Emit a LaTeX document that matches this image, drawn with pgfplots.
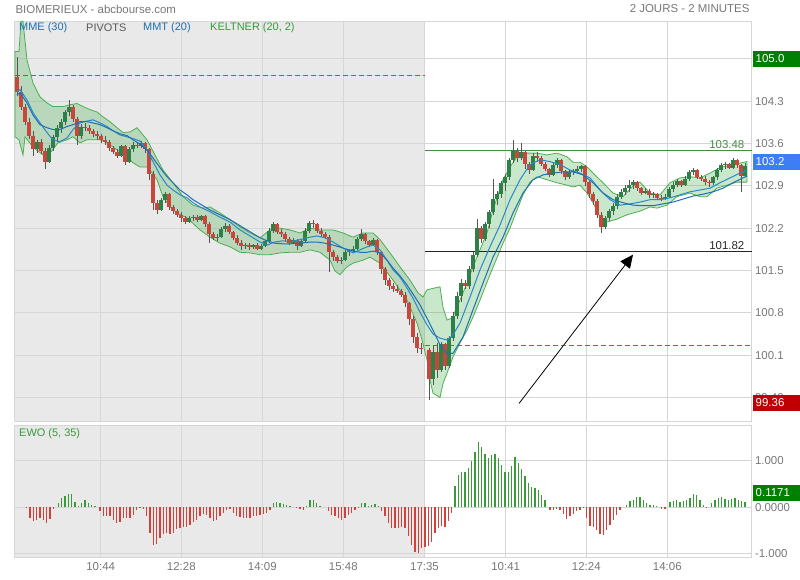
\documentclass[border=0pt]{standalone}
\usepackage{fontspec}
\setmainfont{Liberation Sans}
\usepackage{pgfplots}
\pgfplotsset{compat=1.18}
\usepackage{pgfplotstable}
\usetikzlibrary{arrows.meta}

\definecolor{prevday}{HTML}{E9E9E9}
\definecolor{gridc}{HTML}{D6D6D6}
\definecolor{labc}{HTML}{777777}
\definecolor{upc}{HTML}{2E8049}
\definecolor{dnc}{HTML}{C9473A}
\definecolor{wickc}{HTML}{555555}
\definecolor{keltc}{HTML}{4CAF50}
\definecolor{mablue}{HTML}{1F6FB2}
\definecolor{mablue2}{HTML}{2A88C8}
\definecolor{boxgreen}{HTML}{008000}
\definecolor{boxblue}{HTML}{3D7EF5}
\definecolor{boxred}{HTML}{C00000}
\definecolor{ewogreen}{HTML}{3A9A3A}
\definecolor{ewored}{HTML}{D43F3A}
\definecolor{pivgreen}{HTML}{3F8F3F}
\definecolor{pivred}{HTML}{E53935}

% 2-minute candles (x = position on the time axis)
\pgfplotstableread{
x o h l c
17 104.70 105.03 104.38 104.45
21 104.45 104.55 104.15 104.20
25 104.20 104.25 103.90 103.95
29 103.95 104.02 103.68 103.72
33 103.72 103.80 103.40 103.50
37 103.50 103.66 103.45 103.62
41 103.62 103.68 103.42 103.48
45 103.48 103.52 103.18 103.30
49 103.30 103.58 103.28 103.52
53 103.52 103.74 103.48 103.70
57 103.70 103.90 103.62 103.85
61 103.85 104.00 103.78 103.96
65 103.96 104.16 103.90 104.12
69 104.12 104.32 104.05 104.20
73 104.20 104.24 103.96 104.00
77 104.00 104.04 103.58 103.72
81 103.72 103.92 103.68 103.88
85 103.88 103.94 103.80 103.85
89 103.85 103.90 103.76 103.80
93 103.80 103.84 103.70 103.76
97 103.76 103.80 103.66 103.72
101 103.72 103.76 103.60 103.66
105 103.66 103.72 103.58 103.62
109 103.62 103.66 103.48 103.52
113 103.52 103.56 103.42 103.46
117 103.46 103.50 103.36 103.40
121 103.40 103.58 103.38 103.55
125 103.55 103.58 103.24 103.30
129 103.30 103.54 103.28 103.50
133 103.50 103.62 103.46 103.58
137 103.58 103.62 103.52 103.56
141 103.56 103.64 103.52 103.60
145 103.60 103.62 103.44 103.50
149 103.50 103.52 103.00 103.10
153 103.10 103.14 102.50 102.62
157 102.62 102.66 102.44 102.50
161 102.50 102.70 102.48 102.66
165 102.66 102.80 102.62 102.76
169 102.76 102.78 102.50 102.55
173 102.55 102.58 102.44 102.48
177 102.48 102.52 102.38 102.42
181 102.42 102.46 102.30 102.36
185 102.36 102.40 102.26 102.30
189 102.30 102.40 102.28 102.36
193 102.36 102.42 102.32 102.38
197 102.38 102.42 102.30 102.34
201 102.34 102.42 102.32 102.40
205 102.40 102.42 102.22 102.26
209 102.26 102.30 101.96 102.10
213 102.10 102.14 102.00 102.04
217 102.04 102.10 101.98 102.06
221 102.06 102.22 102.04 102.18
225 102.18 102.28 102.14 102.24
229 102.24 102.26 102.10 102.14
233 102.14 102.16 102.00 102.04
237 102.04 102.08 101.92 101.96
241 101.96 102.00 101.84 101.90
245 101.90 101.96 101.86 101.92
249 101.92 101.96 101.84 101.88
253 101.88 101.94 101.86 101.92
257 101.92 101.96 101.84 101.86
261 101.86 101.94 101.84 101.90
265 101.90 102.00 101.88 101.98
269 101.98 102.20 101.96 102.16
273 102.16 102.30 102.12 102.26
277 102.26 102.28 102.10 102.14
281 102.14 102.18 102.06 102.10
285 102.10 102.14 101.98 102.02
289 102.02 102.06 101.92 101.96
293 101.96 102.04 101.94 102.00
297 102.00 102.02 101.84 101.90
301 101.90 102.02 101.88 101.98
305 101.98 102.20 101.96 102.16
309 102.16 102.32 102.12 102.28
313 102.28 102.34 102.20 102.26
317 102.26 102.28 102.12 102.16
321 102.16 102.20 102.06 102.10
325 102.10 102.14 102.02 102.06
329 102.06 102.08 101.48 101.80
333 101.80 101.84 101.66 101.72
337 101.72 101.76 101.62 101.66
341 101.66 101.72 101.60 101.68
345 101.68 101.84 101.66 101.80
349 101.80 101.86 101.74 101.82
353 101.82 101.90 101.78 101.86
357 101.86 102.06 101.84 102.02
361 102.02 102.18 101.98 102.10
365 102.10 102.12 101.94 101.98
369 101.98 102.00 101.88 101.92
373 101.92 102.04 101.90 102.00
377 102.00 102.02 101.76 101.80
381 101.80 101.82 101.44 101.52
385 101.52 101.56 101.26 101.34
389 101.34 101.38 101.18 101.24
393 101.24 101.30 101.14 101.20
397 101.20 101.26 101.12 101.16
401 101.16 101.20 101.06 101.10
405 101.10 101.14 100.90 100.96
409 100.96 100.98 100.60 100.70
413 100.70 100.74 100.30 100.40
417 100.40 100.46 100.14 100.22
421 100.22 100.30 100.12 100.20
429 100.18 100.22 99.35 99.70
433 99.70 100.25 99.60 100.15
437 100.15 100.30 99.72 99.85
441 99.85 100.32 99.82 100.28
445 100.28 100.30 99.86 99.92
449 99.92 100.42 99.88 100.38
453 100.38 100.82 100.34 100.75
457 100.75 101.15 100.70 101.08
461 101.08 101.36 100.98 101.30
465 101.30 101.34 101.20 101.24
469 101.24 101.58 101.20 101.52
473 101.52 101.80 101.48 101.76
477 101.76 102.35 101.72 102.20
481 102.20 102.24 101.96 102.02
485 102.02 102.30 101.98 102.26
489 102.26 102.50 102.20 102.46
493 102.46 103.02 102.42 102.68
497 102.68 102.82 102.58 102.76
501 102.76 102.98 102.70 102.94
505 102.94 103.10 102.82 103.04
509 103.04 103.36 103.00 103.32
513 103.32 103.66 103.28 103.48
517 103.48 103.52 103.30 103.36
521 103.36 103.61 103.32 103.46
525 103.46 103.48 103.18 103.26
529 103.26 103.30 103.10 103.16
533 103.16 103.44 103.14 103.40
537 103.40 103.46 103.30 103.36
541 103.36 103.40 103.22 103.26
545 103.26 103.30 103.14 103.18
549 103.18 103.20 103.04 103.08
553 103.08 103.28 103.06 103.24
557 103.24 103.36 103.20 103.32
561 103.32 103.34 103.10 103.14
565 103.14 103.16 103.00 103.04
569 103.04 103.16 103.02 103.12
573 103.12 103.18 103.08 103.14
577 103.14 103.22 103.12 103.18
581 103.18 103.24 103.12 103.22
585 103.22 103.24 102.90 102.96
589 102.96 102.98 102.70 102.76
593 102.76 102.80 102.58 102.64
597 102.64 102.68 102.36 102.42
601 102.42 102.46 102.12 102.22
605 102.22 102.40 102.18 102.36
609 102.36 102.52 102.32 102.48
613 102.48 102.62 102.42 102.56
617 102.56 102.76 102.52 102.72
621 102.72 102.84 102.68 102.80
625 102.80 102.92 102.74 102.86
629 102.86 103.00 102.80 102.92
633 102.92 103.00 102.84 102.96
637 102.96 102.98 102.82 102.86
641 102.86 102.88 102.74 102.78
645 102.78 102.86 102.76 102.82
649 102.82 102.84 102.70 102.74
653 102.74 102.80 102.70 102.76
657 102.76 102.78 102.66 102.70
661 102.70 102.74 102.64 102.68
665 102.68 102.76 102.66 102.72
669 102.72 102.88 102.70 102.84
673 102.84 102.96 102.80 102.92
677 102.92 103.02 102.88 102.98
681 102.98 103.00 102.88 102.92
685 102.92 103.06 102.90 103.02
689 103.02 103.16 102.98 103.12
693 103.12 103.20 103.08 103.16
697 103.16 103.18 103.02 103.04
701 103.04 103.08 102.98 103.02
705 103.02 103.06 102.92 102.96
709 102.96 103.00 102.88 102.94
713 102.94 103.06 102.92 103.04
717 103.04 103.20 103.00 103.16
721 103.16 103.28 103.12 103.24
725 103.24 103.30 103.18 103.26
729 103.26 103.28 103.18 103.20
733 103.20 103.36 103.18 103.32
737 103.32 103.34 103.20 103.24
741 103.24 103.26 102.80 103.06
745 103.06 103.28 103.04 103.22
}\candles

% EWO (5, 35) histogram
\pgfplotstableread{
x v
26.7 -0.02
30.0 -0.24
33.3 -0.30
36.7 -0.27
40.0 -0.24
43.3 -0.27
46.7 -0.34
50.0 -0.25
53.3 -0.04
58.3 0.10
61.7 0.19
65.0 0.24
68.3 0.29
71.7 0.28
75.0 0.12
78.3 0.03
81.7 0.09
85.0 0.16
88.3 0.08
91.7 0.04
95.0 0.03
100.0 -0.09
103.3 -0.20
106.7 -0.20
110.0 -0.20
113.3 -0.27
116.7 -0.35
120.0 -0.31
123.3 -0.24
126.7 -0.24
130.0 -0.24
133.3 -0.17
136.7 -0.06
140.0 -0.02
143.3 -0.04
146.7 -0.20
150.0 -0.56
153.3 -0.81
156.7 -0.79
160.0 -0.66
163.3 -0.58
166.7 -0.56
170.0 -0.58
173.3 -0.55
176.7 -0.47
180.0 -0.44
183.3 -0.42
186.7 -0.42
190.0 -0.38
193.3 -0.33
196.7 -0.28
200.0 -0.20
203.3 -0.15
206.7 -0.17
210.0 -0.24
213.3 -0.29
216.7 -0.27
220.0 -0.20
223.3 -0.13
226.7 -0.06
230.0 -0.05
233.3 -0.13
236.7 -0.19
240.0 -0.22
243.3 -0.24
246.7 -0.24
250.0 -0.24
253.3 -0.20
256.7 -0.19
260.0 -0.17
263.3 -0.15
266.7 -0.12
270.0 -0.07
273.3 0.09
276.7 0.12
280.0 0.09
283.3 0.07
286.7 0.05
290.0 0.03
296.7 -0.02
300.0 -0.03
303.3 -0.06
306.7 0.03
310.0 0.15
313.3 0.16
316.7 0.09
320.0 0.03
328.3 -0.09
331.7 -0.17
335.0 -0.20
338.3 -0.24
341.7 -0.27
345.0 -0.24
348.3 -0.17
351.7 -0.12
355.0 -0.06
358.3 -0.02
361.7 0.09
365.0 0.09
368.3 0.03
371.7 0.05
375.0 0.07
378.3 0.03
381.7 -0.09
385.0 -0.20
388.3 -0.35
391.7 -0.45
395.0 -0.45
398.3 -0.45
401.7 -0.42
405.0 -0.45
408.3 -0.63
411.7 -0.81
415.0 -0.96
418.3 -0.99
421.7 -0.88
425.0 -0.85
428.3 -0.83
431.7 -0.75
435.0 -0.55
438.3 -0.45
441.7 -0.40
445.0 -0.42
448.3 -0.30
451.7 -0.12
455.0 0.45
458.3 0.70
461.7 0.77
465.0 0.77
468.3 0.84
471.7 0.99
475.0 1.20
478.3 1.40
481.7 1.31
485.0 1.15
488.3 1.06
491.7 1.13
495.0 1.14
498.3 1.06
501.7 0.92
505.0 0.77
508.3 0.76
511.7 0.90
515.0 1.09
518.3 0.96
521.7 0.82
525.0 0.67
528.3 0.52
531.7 0.43
535.0 0.41
538.3 0.38
541.7 0.27
545.0 0.15
550.0 -0.07
553.3 -0.06
556.7 -0.05
560.0 -0.06
563.3 -0.14
566.7 -0.26
570.0 -0.20
573.3 -0.14
576.7 -0.09
580.0 -0.06
583.3 -0.02
586.7 -0.24
590.0 -0.40
593.3 -0.42
596.7 -0.49
600.0 -0.58
603.3 -0.60
606.7 -0.49
610.0 -0.38
613.3 -0.27
616.7 -0.16
620.0 -0.07
626.7 0.05
630.0 0.14
633.3 0.16
636.7 0.22
640.0 0.23
643.3 0.16
646.7 0.09
650.0 0.05
653.3 0.05
656.7 0.03
661.7 -0.04
665.0 -0.04
670.0 0.12
673.3 0.14
676.7 0.16
680.0 0.12
683.3 0.14
686.7 0.16
690.0 0.19
693.3 0.29
696.7 0.27
700.0 0.16
703.3 0.05
706.7 -0.02
711.7 0.09
715.0 0.16
718.3 0.19
721.7 0.22
725.0 0.17
728.3 0.16
731.7 0.17
735.0 0.19
738.3 0.16
741.7 0.14
745.0 0.12
}\ewo

\pgfplotsset{
  chartbase/.style={
    scale only axis, width=737bp, anchor=south west,
    xmin=14.5, xmax=751.5,
    axis line style={draw=gridc},
    grid=major, major grid style={draw=gridc, line width=0.8bp},
    major tick length=0pt,
    xtick={100.7,181.3,262.3,343.3,424.5,505.7,586.3,667.3},
    yticklabel pos=right,
    tick label style={font=\fontsize{11.5}{12}\selectfont, text=labc},
    /pgf/number format/assume math mode=true,
    clip=false,
  },
}
\tikzset{
  boxlab/.style={anchor=west, text=white, inner xsep=3bp, inner ysep=0pt,
    minimum height=16bp, text width=44bp, align=left,
    font=\fontsize{11.5}{12}\selectfont},
}

\begin{document}
\begin{tikzpicture}
\path[use as bounding box] (0,0) rectangle (800bp,580bp);
% previous-day shading behind both panels
\fill[prevday] (14.5bp,159bp) rectangle (424.5bp,558.7bp);
\fill[prevday] (14.5bp,23.3bp) rectangle (424.5bp,154.3bp);

\node[anchor=west, text=labc, font=\fontsize{11.5}{12}\selectfont] at (12bp,571bp) {BIOMERIEUX - abcbourse.com};
\node[anchor=east, text=labc, font=\fontsize{11.5}{12}\selectfont] at (753bp,571bp) {2 JOURS - 2 MINUTES};

% price panel
\begin{axis}[chartbase, at={(14.5bp,159bp)}, height=399.7bp,
  ymin=99.01, ymax=105.62,
  ytick={99.4,100.1,100.8,101.5,102.2,102.9,103.6,104.3,105.0},
  yticklabels={99.40,100.1,100.8,101.5,102.2,102.9,103.6,104.3,105.0},
  xticklabels={}]

% Keltner (20, 2): upper band left to right, then lower band right to left
\addplot[fill=keltc, fill opacity=0.3, draw=keltc, line width=0.8bp] coordinates {
(15,105.12) (19,105.12) (21,105.62) (23,105.62) (27,104.98) (33,104.60) (40,104.37) (47,104.27)
(53,104.21) (63,104.21) (70,104.24) (77,104.26) (83,104.21) (90,104.16) (97,104.12)
(103,104.04) (110,103.96) (117,103.86) (123,103.78) (130,103.79) (137,103.86) (143,103.74)
(147,103.66) (155,103.41) (163,103.16) (173,102.95) (183,102.72) (193,102.58) (203,102.53)
(210,102.55) (220,102.45) (230,102.34) (240,102.22) (250,102.12) (260,102.04) (270,102.17)
(280,102.20) (290,102.17) (300,102.12) (310,102.20) (320,102.17) (333,102.17) (343,102.12)
(353,102.05) (363,102.12) (373,102.12) (380,102.01) (390,101.79) (400,101.56) (410,101.34)
(418,101.13) (423,101.06) (427,101.18) (440,101.23) (443,100.89) (447,100.68) (452,100.71)
(460,101.01) (467,101.29) (473,101.56) (480,101.84) (487,102.12) (493,102.50) (503,103.00)
(510,103.21) (517,103.38) (527,103.44) (537,103.44) (547,103.41) (557,103.44) (567,103.38)
(573,103.29) (580,103.29) (587,103.21) (593,103.11) (603,102.95) (613,102.78) (623,102.72)
(633,102.90) (640,102.96) (650,102.78) (660,102.75) (670,102.95) (680,103.03) (690,103.05)
(700,103.03) (710,103.11) (720,103.20) (733,103.25) (747,103.30)
(747,102.96) (737,102.96) (727,102.91) (717,102.86) (707,102.72) (700,102.72) (690,102.78)
(677,102.72) (667,102.58) (657,102.53) (650,102.55) (640,102.48) (627,102.42) (617,102.35)
(607,102.30) (600,102.38) (593,102.62) (587,102.78) (580,102.91) (573,102.88) (567,102.91)
(557,102.95) (547,103.00) (537,103.05) (530,102.96) (523,102.75) (517,102.50) (510,102.20)
(503,101.95) (497,101.71) (490,101.43) (480,101.01) (473,100.73) (467,100.51) (460,100.30)
(453,100.07) (447,99.80) (443,99.63) (440,99.40) (433,99.47) (430,99.69) (427,100.02)
(422,100.35) (417,100.63) (407,101.01) (393,101.34) (380,101.62) (370,101.72) (363,101.67)
(353,101.62) (347,101.56) (340,101.43) (335,101.49) (330,101.67) (320,101.80) (310,101.84)
(300,101.80) (290,101.80) (280,101.79) (270,101.76) (260,101.76) (250,101.79) (240,101.80)
(230,101.89) (220,101.95) (210,102.05) (200,102.17) (187,102.37) (177,102.45) (170,102.55)
(163,102.72) (157,103.00) (150,103.16) (147,103.21) (140,103.21) (133,103.28) (127,103.38)
(120,103.46) (113,103.54) (107,103.61) (100,103.66) (93,103.66) (87,103.66) (80,103.61)
(73,103.71) (67,103.66) (58,103.61) (50,103.44) (43,103.41) (33,103.54) (25,103.71)
(23,103.41) (19,103.66) (15,103.71)} -- cycle;

% pivots
\addplot[pivred, line width=0.8bp, dash pattern=on 5bp off 3bp] coordinates {(14.5,104.72) (424.5,104.72)};
\addplot[pivgreen, line width=0.8bp] coordinates {(424.5,103.48) (751.5,103.48)};
\addplot[black!85, line width=0.8bp] coordinates {(424.5,101.82) (751.5,101.82)};
\addplot[pivred, line width=0.8bp, dash pattern=on 5bp off 3bp] coordinates {(424.5,100.26) (751.5,100.26)};

% candles: wicks (low to high), then bodies (open to close)
\addplot[wickc, line width=0.8bp, quiver={u=0, v={\thisrow{h}-\thisrow{l}}}]
  table[x=x, y=l] {\candles};
\addplot[upc, line width=3.4bp, line cap=butt, quiver={u=0, v={max(\thisrow{c}-\thisrow{o},0)}}]
  table[x=x, y=o] {\candles};
\addplot[dnc, line width=3.4bp, line cap=butt, quiver={u=0, v={min(\thisrow{c}-\thisrow{o},0)}}]
  table[x=x, y=o] {\candles};

% MMT (20)
\addplot[mablue2, line width=1bp] coordinates {
(17,104.45) (20,104.49) (27,104.32) (33,104.11) (40,103.94) (47,103.78) (53,103.66)
(60,103.63) (67,103.69) (73,103.83) (80,103.94) (87,103.97) (93,103.99) (100,103.94)
(107,103.88) (113,103.81) (120,103.74) (127,103.71) (133,103.68) (140,103.64) (147,103.49)
(153,103.30) (160,103.08) (167,102.91) (173,102.83) (180,102.75) (187,102.70) (193,102.62)
(200,102.55) (210,102.47) (220,102.38) (230,102.30) (240,102.17) (250,102.07) (260,101.97)
(267,101.92) (275,101.97) (283,101.99) (290,101.97) (300,102.01) (310,102.05) (317,102.07)
(325,102.04) (333,101.97) (343,101.87) (353,101.79) (360,101.84) (367,101.89) (373,101.92)
(380,101.84) (387,101.67) (393,101.51) (400,101.39) (407,101.21) (413,101.04) (420,100.81)
(427,100.60) (433,100.45) (440,100.38) (447,100.35) (452,100.41) (460,100.63) (470,101.06)
(480,101.51) (490,101.89) (500,102.25) (510,102.67) (520,103.00) (530,103.25) (540,103.33)
(550,103.30) (560,103.25) (570,103.16) (580,103.11) (590,103.03) (600,102.83) (610,102.67)
(620,102.58) (630,102.60) (640,102.63) (650,102.67) (660,102.67) (670,102.70) (680,102.75)
(690,102.80) (700,102.83) (710,102.86) (720,102.95) (730,103.03) (740,103.11) (747,103.16)};
% MME (30)
\addplot[mablue, line width=1bp] coordinates {
(17,104.40) (20,104.44) (27,104.27) (33,104.07) (40,103.91) (47,103.86) (53,103.83)
(60,103.83) (67,103.88) (73,103.91) (80,103.96) (87,103.96) (93,103.94) (100,103.91)
(107,103.86) (113,103.81) (120,103.76) (127,103.73) (133,103.66) (140,103.59) (147,103.49)
(153,103.36) (160,103.20) (167,103.05) (173,102.95) (180,102.83) (187,102.75) (193,102.67)
(200,102.60) (210,102.50) (220,102.42) (230,102.34) (240,102.24) (250,102.14) (260,102.04)
(267,101.99) (275,101.95) (283,101.94) (290,101.94) (300,101.95) (310,101.97) (317,101.97)
(325,101.95) (333,101.92) (343,101.87) (353,101.82) (360,101.80) (367,101.80) (373,101.82)
(380,101.79) (387,101.67) (393,101.54) (400,101.41) (407,101.26) (413,101.11) (420,100.93)
(427,100.71) (433,100.51) (440,100.27) (447,100.12) (453,100.13) (463,100.40) (473,100.85)
(483,101.29) (493,101.72) (503,102.05) (513,102.45) (523,102.78) (533,103.00) (543,103.08)
(553,103.11) (563,103.13) (573,103.13) (583,103.08) (593,102.95) (603,102.78) (613,102.67)
(623,102.62) (633,102.58) (643,102.57) (653,102.57) (663,102.60) (673,102.63) (683,102.68)
(693,102.73) (703,102.76) (713,102.80) (723,102.86) (733,102.95) (743,103.03) (747,103.06)};

\draw[-{Triangle[length=13bp,width=12bp]}, line width=0.8bp] (axis cs:519,99.30) -- (axis cs:633,101.76);

\node[anchor=south east, text=pivgreen, inner sep=1.5bp, font=\fontsize{11.5}{12}\selectfont] at (axis cs:746,103.48) {103.48};
\node[anchor=south east, text=black!85, inner sep=1.5bp, font=\fontsize{11.5}{12}\selectfont] at (axis cs:746,101.82) {101.82};

\node[anchor=west, inner sep=0pt, text=mablue, font=\fontsize{11}{12}\selectfont] at (axis cs:19,105.51) {MME (30)};
\node[anchor=west, inner sep=0pt, text=black!65, font=\fontsize{11}{12}\selectfont] at (axis cs:86,105.51) {PIVOTS};
\node[anchor=west, inner sep=0pt, text=mablue, font=\fontsize{11}{12}\selectfont] at (axis cs:143,105.51) {MMT (20)};
\node[anchor=west, inner sep=0pt, text=ewogreen, font=\fontsize{11}{12}\selectfont] at (axis cs:210,105.51) {KELTNER (20, 2)};

\node[boxlab, fill=boxgreen] at (axis cs:752.5,105.0) {105.0};
\node[boxlab, fill=boxblue] at (axis cs:752.5,103.30) {103.2};
\node[boxlab, fill=boxred] at (axis cs:752.5,99.31) {99.36};
\end{axis}

% EWO panel
\begin{axis}[chartbase, at={(14.5bp,23.3bp)}, height=131bp,
  ymin=-1.07, ymax=1.76,
  ytick={-1,0,1}, yticklabels={-1.000,0.0000,1.000},
  xticklabels={10:44,12:28,14:09,15:48,17:35,10:41,12:24,14:06},
  xticklabel style={yshift=-2bp}]
\addplot[ycomb, ewogreen, line width=1.5bp, restrict y to domain=0:3] table[x=x, y=v] {\ewo};
\addplot[ycomb, ewored, line width=1.5bp, restrict y to domain=-3:0] table[x=x, y=v] {\ewo};
\node[anchor=west, inner sep=0pt, text=ewogreen, font=\fontsize{11}{12}\selectfont] at (axis cs:19,1.58) {EWO (5, 35)};
\node[boxlab, fill=boxgreen] at (axis cs:752.5,0.31) {0.1171};
\end{axis}
\end{tikzpicture}
\end{document}
